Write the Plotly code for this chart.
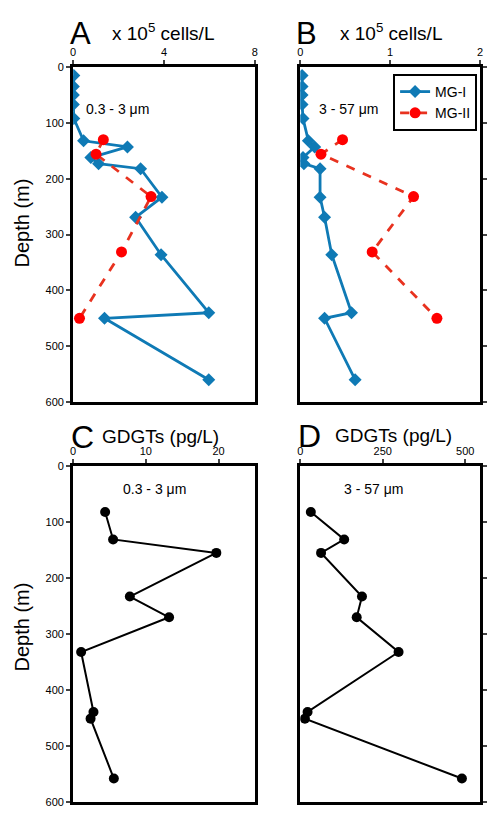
import plotly.graph_objects as go

# ---------------- data ----------------
depth_mg1 = [15, 35, 50, 67, 92, 132, 143, 162, 173, 182, 233, 269, 336, 440, 450, 560]
mg1_small = [0.03, 0.01, 0.01, 0.01, 0.03, 0.46, 2.39, 0.78, 1.12, 2.97, 3.91, 2.75, 3.87, 5.97, 1.38, 5.97]
mg1_large = [0.02, 0.02, 0.02, 0.02, 0.03, 0.09, 0.16, 0.03, 0.04, 0.22, 0.22, 0.27, 0.35, 0.57, 0.27, 0.61]

depth_mg2 = [130, 156, 232, 331, 450]
mg2_small = [1.33, 1.01, 3.43, 2.13, 0.28]
mg2_large = [0.47, 0.23, 1.26, 0.80, 1.52]

depth_gdgt = [82, 131, 155, 233, 270, 332, 439, 451, 558]
gdgt_small = [4.4, 5.5, 19.7, 7.8, 13.2, 1.1, 2.8, 2.4, 5.6]
gdgt_large = [32, 133, 63, 187, 171, 298, 22, 14, 490]

depth_ticks = [0, 100, 200, 300, 400, 500, 600]
xticks_a = [0, 4, 8]
xticks_b = [0, 1, 2]
xticks_c = [0, 10, 20]
xticks_d = [0, 250, 500]

W, H = 487, 813
FONT = "Liberation Sans, Arial, Helvetica, sans-serif"
BLUE = "#0f7ab5"
RED_M = "#ff0000"
RED_L = "#e8321f"

def px(x):
    return x / W

def py(y):
    return 1 - y / H

fig = go.Figure()

# Panel A
fig.add_trace(go.Scatter(x=mg1_small, y=depth_mg1, mode="lines+markers", name="MG-I",
                         line=dict(color=BLUE, width=2.8),
                         marker=dict(symbol="diamond", size=10, color=BLUE),
                         xaxis="x", yaxis="y", showlegend=False))
fig.add_trace(go.Scatter(x=mg2_small, y=depth_mg2, mode="lines+markers", name="MG-II",
                         line=dict(color=RED_L, width=2.8, dash="dash"),
                         marker=dict(symbol="circle", size=11, color=RED_M),
                         xaxis="x", yaxis="y", showlegend=False))
# Panel B
fig.add_trace(go.Scatter(x=mg1_large, y=depth_mg1, mode="lines+markers", name="MG-I",
                         line=dict(color=BLUE, width=2.8),
                         marker=dict(symbol="diamond", size=10, color=BLUE),
                         xaxis="x2", yaxis="y2", showlegend=True))
fig.add_trace(go.Scatter(x=mg2_large, y=depth_mg2, mode="lines+markers", name="MG-II",
                         line=dict(color=RED_L, width=2.8, dash="dash"),
                         marker=dict(symbol="circle", size=11, color=RED_M),
                         xaxis="x2", yaxis="y2", showlegend=True))
# Panel C
fig.add_trace(go.Scatter(x=gdgt_small, y=depth_gdgt, mode="lines+markers",
                         line=dict(color="black", width=2),
                         marker=dict(symbol="circle", size=10, color="black"),
                         xaxis="x3", yaxis="y3", showlegend=False))
# Panel D
fig.add_trace(go.Scatter(x=gdgt_large, y=depth_gdgt, mode="lines+markers",
                         line=dict(color="black", width=2),
                         marker=dict(symbol="circle", size=10, color="black"),
                         xaxis="x4", yaxis="y4", showlegend=False))

tickfont = dict(family=FONT, size=11, color="black")

def xax(dom, rng, ticks, anchor):
    return dict(domain=dom, range=rng, side="top", tickvals=ticks, ticks="outside",
                ticklen=4, tickwidth=2, showline=True, linewidth=3, linecolor="black",
                mirror=True, showgrid=False, zeroline=False, tickfont=tickfont,
                anchor=anchor)

def yax(dom, labels, anchor):
    return dict(domain=dom, range=[600, 0], tickvals=depth_ticks, ticks="outside",
                ticklen=4, tickwidth=2, showline=True, linewidth=3, linecolor="black",
                mirror=True, showgrid=False, zeroline=False, tickfont=tickfont,
                showticklabels=labels, side="left" if labels else "right",
                anchor=anchor)

xdomL = [px(71), px(255)]
xdomR = [px(301), px(483)]
ydomT = [py(402), py(62)]
ydomB = [py(808), py(467)]

fig.update_layout(
    width=W, height=H,
    margin=dict(l=0, r=0, t=0, b=0),
    paper_bgcolor="white", plot_bgcolor="white",
    font=dict(family=FONT, color="black"),
    xaxis=xax(xdomL, [0, 8], xticks_a, "y"),
    yaxis=yax(ydomT, True, "x"),
    xaxis2=xax(xdomR, [0, 2], xticks_b, "y2"),
    yaxis2=yax(ydomT, False, "x2"),
    xaxis3=xax(xdomL, [0, 25], xticks_c, "y3"),
    yaxis3=yax(ydomB, True, "x3"),
    xaxis4=xax(xdomR, [0, 545], xticks_d, "y4"),
    yaxis4=yax(ydomB, False, "x4"),
    legend=dict(x=px(480), y=py(69), xanchor="right", yanchor="top",
                bordercolor="black", borderwidth=2, bgcolor="white",
                font=dict(family=FONT, size=14, color="black"),
                tracegroupgap=0, itemwidth=30),
    showlegend=True,
)

def ann(text, x, y, size, xanchor="left", angle=0):
    fig.add_annotation(text=text, x=px(x), y=py(y), xref="paper", yref="paper",
                       xanchor=xanchor, yanchor="middle", showarrow=False,
                       textangle=angle, font=dict(family=FONT, size=size, color="black"))

ann("A", 78, 28, 31, "center")
ann("x 10<sup>5</sup> cells/L", 108, 26, 19)
ann("B", 307, 28, 31, "center")
ann("x 10<sup>5</sup> cells/L", 339, 26, 19)
ann("C", 80, 437, 32, "center")
ann("GDGTs (pg/L)", 98, 437, 19)
ann("D", 310, 436, 32, "center")
ann("GDGTs (pg/L)", 334, 436, 19)

ann("0.3 - 3 μm", 82, 105, 14)
ann("3 - 57 μm", 318, 105, 14)
ann("0.3 - 3 μm", 119, 490, 14)
ann("3 - 57 μm", 343, 490, 14)

ann("Depth (m)", 19, 220, 20, "center", -90)
ann("Depth (m)", 19, 630, 20, "center", -90)

fig.write_html("out.html", config={"displayModeBar": False},
               post_script="document.body.style.margin='0';document.body.style.overflow='hidden';")
